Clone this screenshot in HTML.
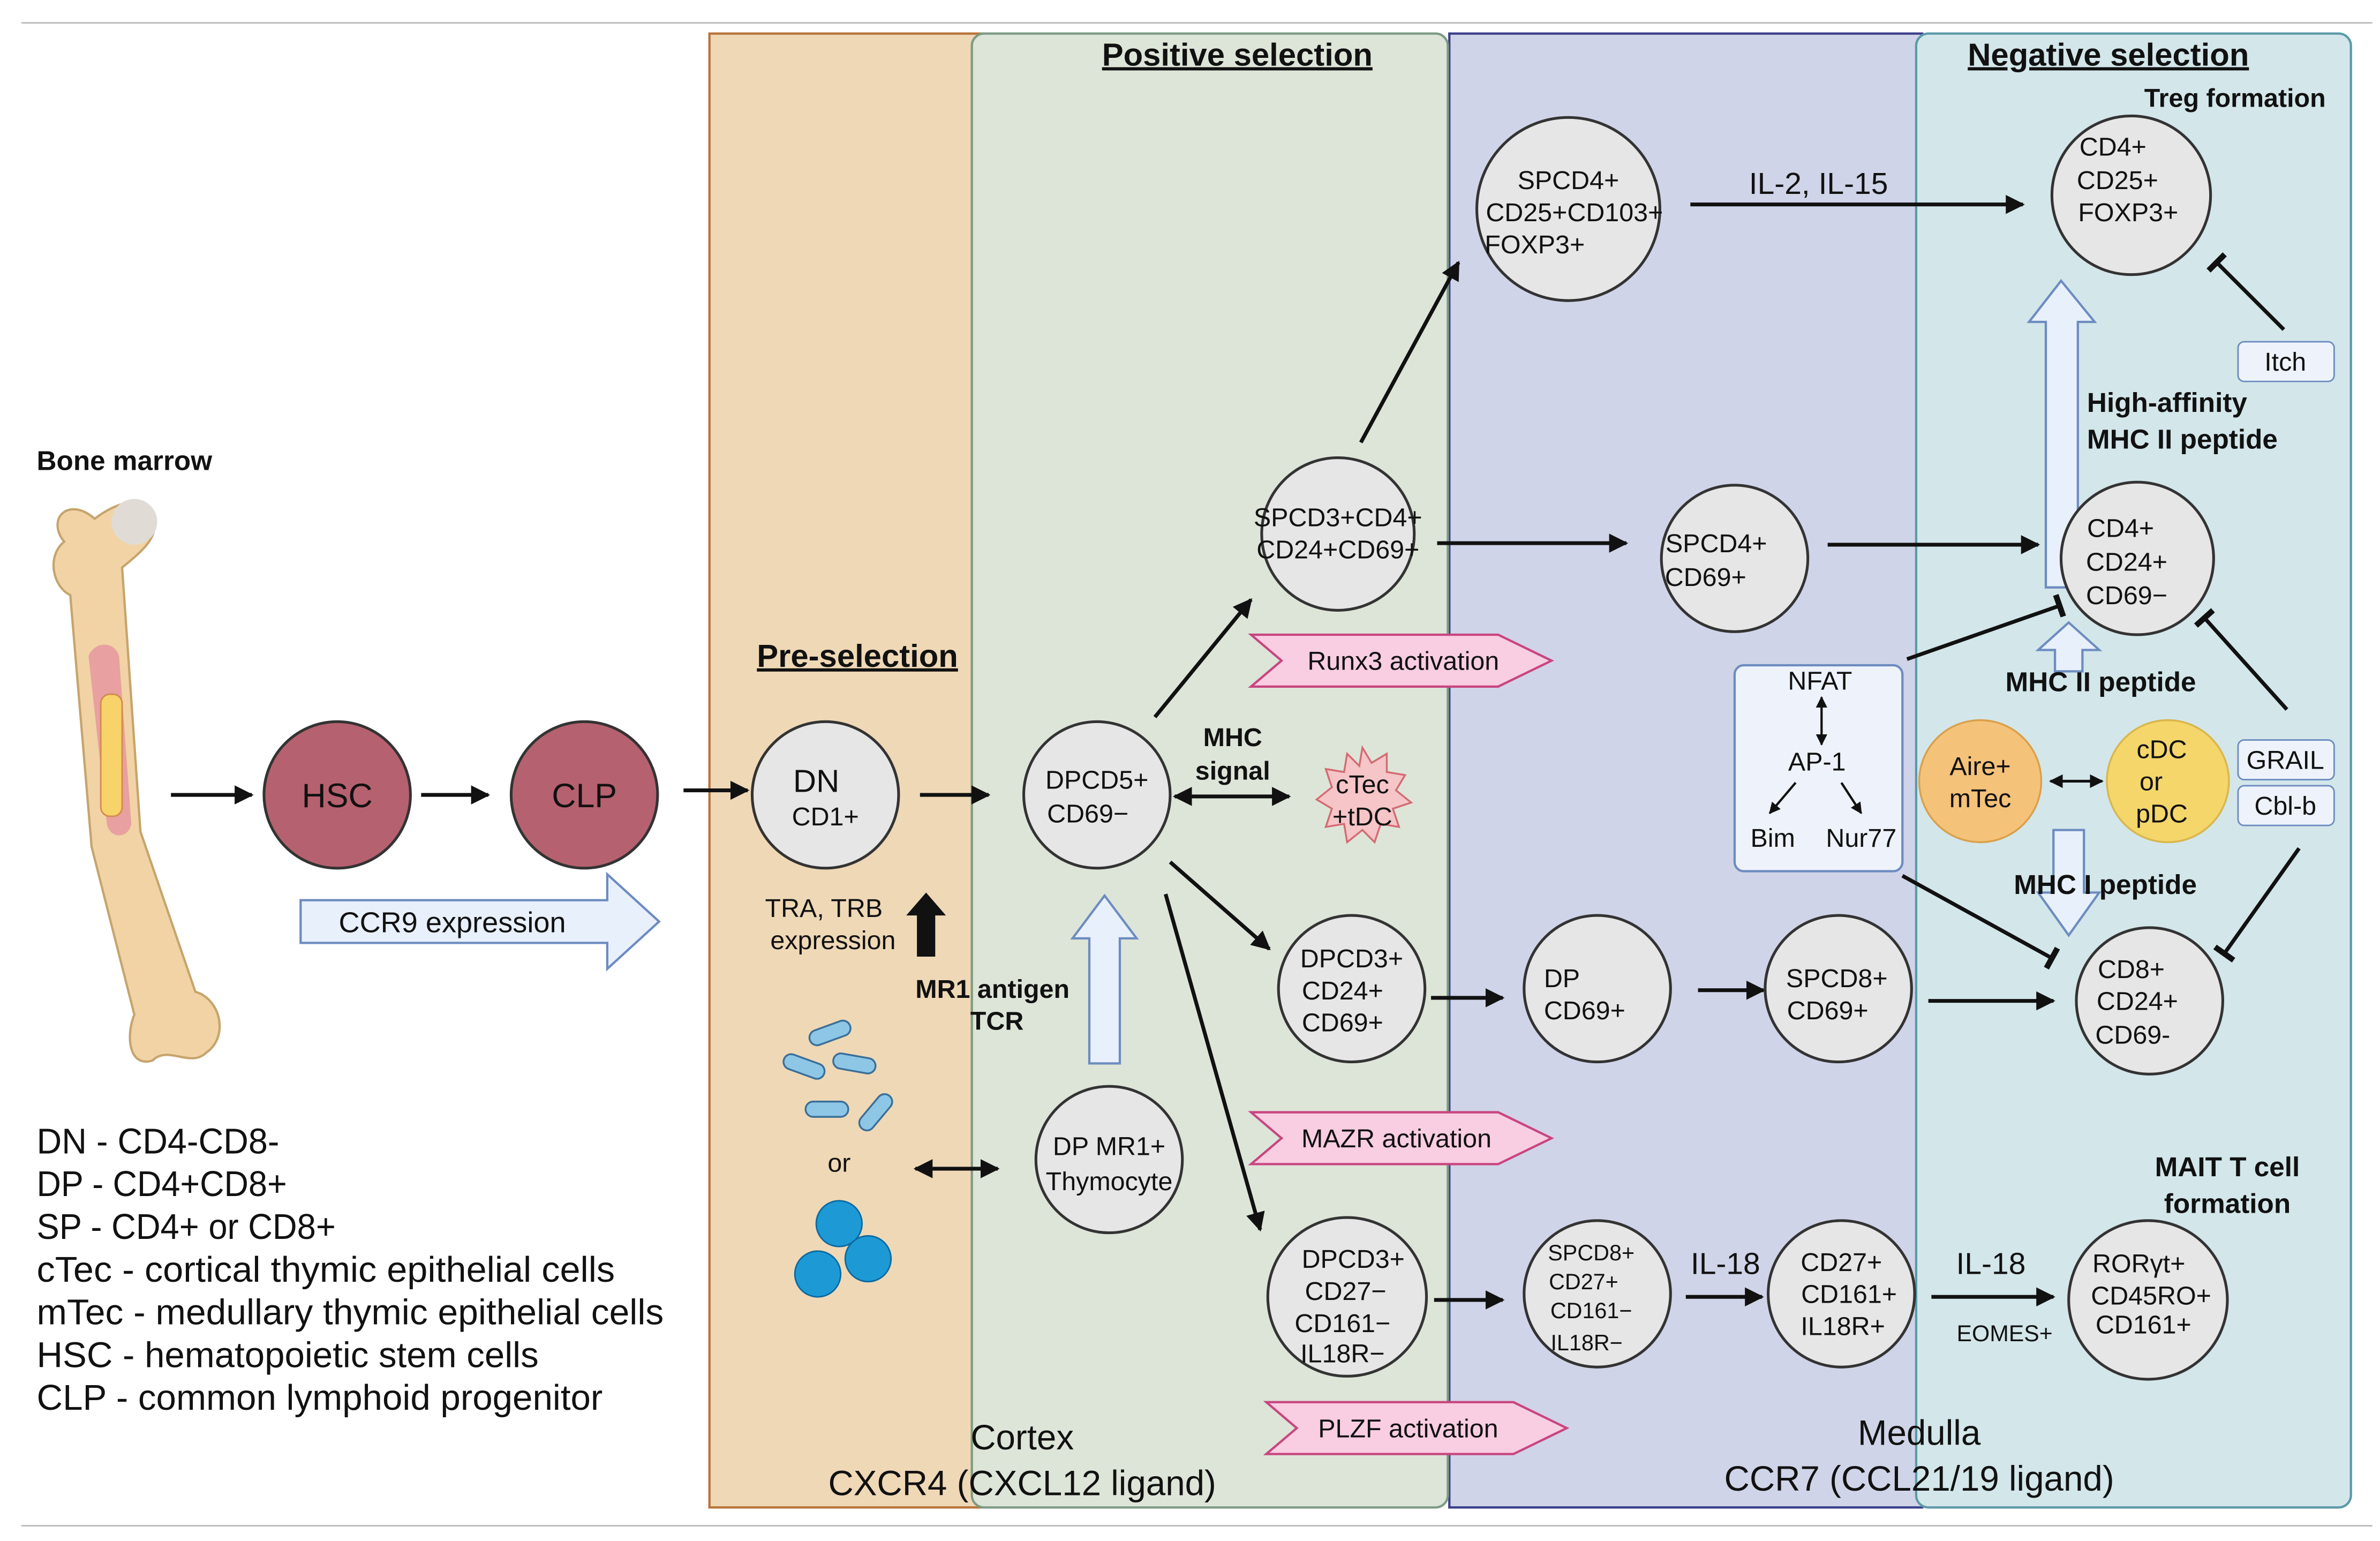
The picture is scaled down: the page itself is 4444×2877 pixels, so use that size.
<!DOCTYPE html>
<html><head><meta charset="utf-8"><style>
html,body{margin:0;padding:0;background:#fff}
svg{display:block}
text{font-family:"Liberation Sans",sans-serif;fill:#111}
.c{fill:#e6e6e6;stroke:#333;stroke-width:1.8}
.t{font-size:17px}
.b{font-weight:bold}
.ln{stroke:#111;stroke-width:2.5;fill:none}
</style></head><body>
<svg width="4444" height="2877" viewBox="0 0 1560 1010" xmlns="http://www.w3.org/2000/svg">
<defs>
<marker id="a" viewBox="0 0 10 10" refX="9" refY="5" markerWidth="5" markerHeight="5" orient="auto-start-reverse"><path d="M0,0L10,5L0,10z" fill="#111"/></marker>
<marker id="tb" viewBox="0 0 10 10" refX="5" refY="5" markerWidth="6" markerHeight="6" orient="auto"><path d="M5,0L5,10" stroke="#111" stroke-width="2.5"/></marker>
</defs>
<line x1="14" y1="15" x2="1555" y2="15" stroke="#bbb" stroke-width="1"/>
<line x1="14" y1="1000" x2="1555" y2="1000" stroke="#bbb" stroke-width="1"/>
<rect x="465" y="22" width="180" height="966" fill="#efd8b6" stroke="#b8743a" stroke-width="1.5"/>
<rect x="950" y="22" width="310" height="966" fill="#d0d4e8" stroke="#3a3f8a" stroke-width="1.5"/>
<rect x="637" y="22" width="312" height="966" rx="8" fill="#dde5d8" stroke="#7c9b84" stroke-width="1.5"/>
<rect x="1256" y="22" width="285" height="966" rx="8" fill="#d3e6ea" stroke="#5b9aa8" stroke-width="1.5"/>
<text x="811" y="43" font-size="21" class="b" text-anchor="middle" text-decoration="underline">Positive selection</text>
<text x="1382" y="43" font-size="21" class="b" text-anchor="middle" text-decoration="underline">Negative selection</text>
<text x="1465" y="70" font-size="17" class="b" text-anchor="middle">Treg formation</text>
<text x="562" y="437" font-size="21" class="b" text-anchor="middle" text-decoration="underline">Pre-selection</text>
<text x="670" y="950" font-size="23" text-anchor="middle">Cortex</text>
<text x="670" y="980" font-size="23" text-anchor="middle">CXCR4 (CXCL12 ligand)</text>
<text x="1258" y="947" font-size="23" text-anchor="middle">Medulla</text>
<text x="1258" y="977" font-size="23" text-anchor="middle">CCR7 (CCL21/19 ligand)</text>
<text x="24" y="308" font-size="18" class="b">Bone marrow</text>
<path d="M42,355 C30,340 45,325 62,340 C75,330 95,322 100,340 C105,352 92,362 80,372 L92,545 L128,650 C145,655 150,680 135,690 C125,700 110,685 100,695 C85,700 82,680 88,665 L60,555 L46,390 C35,385 30,365 42,355z" fill="#f1d3a6" stroke="#c6a46c" stroke-width="1.5"/>
<circle cx="88" cy="342" r="15" fill="#e0dcd5"/>
<path d="M58,430 C62,420 75,420 78,430 L86,540 C84,550 72,550 70,540z" fill="#e8a0a0"/>
<rect x="66" y="455" width="14" height="80" rx="6" fill="#f7d36a" stroke="#d48a50"/>
<g font-size="23.5">
<text x="24" y="756" textLength="159" lengthAdjust="spacingAndGlyphs">DN - CD4-CD8-</text>
<text x="24" y="784" textLength="164" lengthAdjust="spacingAndGlyphs">DP - CD4+CD8+</text>
<text x="24" y="812" textLength="196" lengthAdjust="spacingAndGlyphs">SP - CD4+ or CD8+</text>
<text x="24" y="840" textLength="379" lengthAdjust="spacingAndGlyphs">cTec - cortical thymic epithelial cells</text>
<text x="24" y="868" textLength="411" lengthAdjust="spacingAndGlyphs">mTec - medullary thymic epithelial cells</text>
<text x="24" y="896" textLength="329" lengthAdjust="spacingAndGlyphs">HSC - hematopoietic stem cells</text>
<text x="24" y="924" textLength="371" lengthAdjust="spacingAndGlyphs">CLP - common lymphoid progenitor</text>
</g>
<line x1="112" y1="521" x2="165" y2="521" class="ln" marker-end="url(#a)"/>
<circle cx="221" cy="521" r="48" fill="#b6616f" stroke="#333" stroke-width="1.8"/>
<text x="221" y="529" font-size="22" text-anchor="middle">HSC</text>
<line x1="276" y1="521" x2="320" y2="521" class="ln" marker-end="url(#a)"/>
<circle cx="383" cy="521" r="48" fill="#b6616f" stroke="#333" stroke-width="1.8"/>
<text x="383" y="529" font-size="22" text-anchor="middle">CLP</text>
<line x1="448" y1="518" x2="490" y2="518" class="ln" marker-end="url(#a)"/>
<path d="M197,590 H398 V573 L432,604 L398,635 V618 H197z" fill="#e8f0fb" stroke="#6d8cc0" stroke-width="1.5"/>
<text x="222" y="611" font-size="19">CCR9 expression</text>
<circle class="c" cx="541" cy="521" r="48"/>
<text x="535" y="519" font-size="21" text-anchor="middle">DN</text>
<text x="541" y="541" class="t" text-anchor="middle">CD1+</text>
<line x1="603" y1="521" x2="648" y2="521" class="ln" marker-end="url(#a)"/>
<text x="540" y="601" class="t" text-anchor="middle">TRA, TRB</text>
<text x="546" y="622" class="t" text-anchor="middle">expression</text>
<path d="M607,585 L620,600 H613 V627 H601 V600 H594z" fill="#111"/>
<text x="600" y="654" class="t b">MR1 antigen</text>
<text x="636" y="675" class="t b">TCR</text>
<g fill="#8ec6e6" stroke="#3a6f99" stroke-width="1.2">
<rect x="530" y="672" width="28" height="10" rx="5" transform="rotate(-20 544 677)"/>
<rect x="513" y="694" width="28" height="10" rx="5" transform="rotate(20 527 699)"/>
<rect x="546" y="692" width="28" height="10" rx="5" transform="rotate(10 560 697)"/>
<rect x="528" y="722" width="28" height="10" rx="5"/>
<rect x="560" y="724" width="28" height="10" rx="5" transform="rotate(-50 574 729)"/>
</g>
<text x="550" y="768" class="t" text-anchor="middle">or</text>
<g fill="#1d9ad6" stroke="#0b6aa0">
<circle cx="550" cy="802" r="15"/><circle cx="536" cy="835" r="15"/><circle cx="569" cy="825" r="15"/>
</g>
<line x1="600" y1="766" x2="654" y2="766" class="ln" marker-start="url(#a)" marker-end="url(#a)"/>
<circle class="c" cx="719" cy="521" r="48"/>
<text x="719" y="517" class="t" text-anchor="middle">DPCD5+</text>
<text x="713" y="539" class="t" text-anchor="middle">CD69−</text>
<path d="M714,697 V615 H703 L724,587 L745,615 H734 V697z" fill="#e8f0fb" stroke="#6d8cc0" stroke-width="1.5"/>
<circle class="c" cx="727" cy="760" r="48"/>
<text x="727" y="757" class="t" text-anchor="middle">DP MR1+</text>
<text x="727" y="780" class="t" text-anchor="middle">Thymocyte</text>
<text x="808" y="489" class="t b" text-anchor="middle">MHC</text>
<text x="808" y="511" class="t b" text-anchor="middle">signal</text>
<line x1="770" y1="522" x2="845" y2="522" class="ln" marker-start="url(#a)" marker-end="url(#a)"/>
<path d="M893,490 l6,10 l10,-6 l0,12 l12,2 l-6,10 l10,8 l-12,4 l4,12 l-12,-2 l-4,12 l-8,-8 l-10,8 l-2,-12 l-12,2 l4,-12 l-10,-6 l10,-8 l-4,-12 l12,2 l2,-12 l8,8z" fill="#f5c5c8" stroke="#d46a72" stroke-width="1.2"/>
<text x="893" y="520" class="t" text-anchor="middle">cTec</text>
<text x="893" y="541" class="t" text-anchor="middle">+tDC</text>
<line x1="757" y1="470" x2="820" y2="393" class="ln" marker-end="url(#a)"/>
<line x1="767" y1="565" x2="832" y2="622" class="ln" marker-end="url(#a)"/>
<line x1="764" y1="586" x2="826" y2="806" class="ln" stroke-width="2" marker-end="url(#a)"/>
<circle class="c" cx="877" cy="350" r="50"/>
<text x="877" y="345" class="t" text-anchor="middle">SPCD3+CD4+</text>
<text x="877" y="366" class="t" text-anchor="middle">CD24+CD69+</text>
<line x1="892" y1="290" x2="956" y2="172" class="ln" marker-end="url(#a)"/>
<line x1="942" y1="356" x2="1066" y2="356" class="ln" marker-end="url(#a)"/>
<path d="M820,416 H982 L1017,433 L982,450 H820 L840,433z" fill="#f9cde2" stroke="#c8457f" stroke-width="1.5"/>
<text x="857" y="439" class="t">Runx3 activation</text>
<path d="M820,729 H982 L1017,746 L982,763 H820 L840,746z" fill="#f9cde2" stroke="#c8457f" stroke-width="1.5"/>
<text x="853" y="752" class="t">MAZR activation</text>
<path d="M830,919 H992 L1027,936 L992,953 H830 L850,936z" fill="#f9cde2" stroke="#c8457f" stroke-width="1.5"/>
<text x="864" y="942" class="t">PLZF activation</text>
<circle class="c" cx="1028" cy="137" r="60"/>
<text x="1028" y="124" class="t" text-anchor="middle">SPCD4+</text>
<text x="1032" y="145" class="t" text-anchor="middle">CD25+CD103+</text>
<text x="1006" y="166" class="t" text-anchor="middle">FOXP3+</text>
<line x1="1108" y1="134" x2="1326" y2="134" class="ln" marker-end="url(#a)"/>
<text x="1192" y="127" font-size="20" text-anchor="middle">IL-2, IL-15</text>
<circle class="c" cx="1397" cy="128" r="52"/>
<text x="1385" y="102" class="t" text-anchor="middle">CD4+</text>
<text x="1388" y="124" class="t" text-anchor="middle">CD25+</text>
<text x="1395" y="145" class="t" text-anchor="middle">FOXP3+</text>
<line x1="1497" y1="216" x2="1453" y2="172" class="ln" marker-end="url(#tb)"/>
<rect x="1467" y="224" width="63" height="26" rx="4" fill="#eef3fb" stroke="#6d8cc0"/>
<text x="1498" y="243" class="t" text-anchor="middle">Itch</text>
<path d="M1341,385 V211 H1330 L1351,184 L1373,211 H1362 V385z" fill="#e8f0fb" stroke="#6d8cc0" stroke-width="1.5"/>
<text x="1368" y="270" font-size="18" class="b">High-affinity</text>
<text x="1368" y="294" font-size="18" class="b">MHC II peptide</text>
<circle class="c" cx="1137" cy="366" r="48"/>
<text x="1125" y="362" class="t" text-anchor="middle">SPCD4+</text>
<text x="1118" y="384" class="t" text-anchor="middle">CD69+</text>
<line x1="1198" y1="357" x2="1336" y2="357" class="ln" marker-end="url(#a)"/>
<circle class="c" cx="1401" cy="366" r="50"/>
<text x="1390" y="352" class="t" text-anchor="middle">CD4+</text>
<text x="1394" y="374" class="t" text-anchor="middle">CD24+</text>
<text x="1394" y="396" class="t" text-anchor="middle">CD69−</text>
<path d="M1347,440 V426 H1336 L1356,408 L1376,426 H1365 V440z" fill="#e8f0fb" stroke="#6d8cc0" stroke-width="1.5"/>
<text x="1377" y="453" font-size="18" class="b" text-anchor="middle">MHC II peptide</text>
<line x1="1499" y1="465" x2="1445" y2="405" class="ln" marker-end="url(#tb)"/>
<rect x="1137" y="436" width="110" height="135" rx="6" fill="#eef3fb" stroke="#6d8cc0" stroke-width="1.5"/>
<text x="1193" y="452" class="t" text-anchor="middle">NFAT</text>
<line x1="1194" y1="457" x2="1194" y2="488" stroke="#111" stroke-width="1.5" marker-start="url(#a)" marker-end="url(#a)"/>
<text x="1191" y="505" class="t" text-anchor="middle">AP-1</text>
<line x1="1177" y1="513" x2="1160" y2="533" stroke="#111" stroke-width="1.5" marker-end="url(#a)"/>
<line x1="1207" y1="513" x2="1220" y2="533" stroke="#111" stroke-width="1.5" marker-end="url(#a)"/>
<text x="1162" y="555" class="t" text-anchor="middle">Bim</text>
<text x="1220" y="555" class="t" text-anchor="middle">Nur77</text>
<line x1="1250" y1="432" x2="1350" y2="397" class="ln" marker-end="url(#tb)"/>
<line x1="1247" y1="574" x2="1345" y2="628" class="ln" marker-end="url(#tb)"/>
<circle cx="1298" cy="512" r="40" fill="#f5c27a" stroke="#d9a04a" stroke-width="1.2"/>
<text x="1298" y="508" class="t" text-anchor="middle">Aire+</text>
<text x="1298" y="529" class="t" text-anchor="middle">mTec</text>
<line x1="1344" y1="512" x2="1378" y2="512" stroke="#111" stroke-width="1.8" marker-start="url(#a)" marker-end="url(#a)"/>
<circle cx="1421" cy="512" r="40" fill="#f5d66a" stroke="#d9b64a" stroke-width="1.2"/>
<text x="1417" y="497" class="t" text-anchor="middle">cDC</text>
<text x="1410" y="518" class="t" text-anchor="middle">or</text>
<text x="1417" y="539" class="t" text-anchor="middle">pDC</text>
<rect x="1467" y="485" width="63" height="26" rx="4" fill="#eef3fb" stroke="#6d8cc0"/>
<text x="1498" y="504" class="t" text-anchor="middle">GRAIL</text>
<rect x="1467" y="515" width="63" height="26" rx="4" fill="#eef3fb" stroke="#6d8cc0"/>
<text x="1498" y="534" class="t" text-anchor="middle">Cbl-b</text>
<path d="M1346,544 V585 H1336 L1356,613 L1376,585 H1366 V544z" fill="#e8f0fb" stroke="#6d8cc0" stroke-width="1.5"/>
<text x="1380" y="586" font-size="18" class="b" text-anchor="middle">MHC I peptide</text>
<line x1="1507" y1="556" x2="1458" y2="625" class="ln" marker-end="url(#tb)"/>
<circle class="c" cx="886" cy="648" r="48"/>
<text x="886" y="634" class="t" text-anchor="middle">DPCD3+</text>
<text x="880" y="655" class="t" text-anchor="middle">CD24+</text>
<text x="880" y="676" class="t" text-anchor="middle">CD69+</text>
<line x1="938" y1="654" x2="985" y2="654" class="ln" marker-end="url(#a)"/>
<circle class="c" cx="1047" cy="648" r="48"/>
<text x="1012" y="647" class="t">DP</text>
<text x="1012" y="668" class="t">CD69+</text>
<line x1="1113" y1="649" x2="1156" y2="649" class="ln" marker-end="url(#a)"/>
<circle class="c" cx="1205" cy="648" r="48"/>
<text x="1204" y="647" class="t" text-anchor="middle">SPCD8+</text>
<text x="1198" y="668" class="t" text-anchor="middle">CD69+</text>
<line x1="1264" y1="656" x2="1346" y2="656" class="ln" marker-end="url(#a)"/>
<circle class="c" cx="1409" cy="656" r="48"/>
<text x="1397" y="641" class="t" text-anchor="middle">CD8+</text>
<text x="1401" y="662" class="t" text-anchor="middle">CD24+</text>
<text x="1398" y="684" class="t" text-anchor="middle">CD69-</text>
<circle class="c" cx="883" cy="850" r="52"/>
<text x="887" y="831" class="t" text-anchor="middle">DPCD3+</text>
<text x="882" y="852" class="t" text-anchor="middle">CD27−</text>
<text x="880" y="873" class="t" text-anchor="middle">CD161−</text>
<text x="880" y="893" class="t" text-anchor="middle">IL18R−</text>
<line x1="940" y1="852" x2="985" y2="852" class="ln" marker-end="url(#a)"/>
<circle class="c" cx="1047" cy="848" r="48"/>
<text x="1043" y="826" font-size="14.5" text-anchor="middle">SPCD8+</text>
<text x="1038" y="845" font-size="14.5" text-anchor="middle">CD27+</text>
<text x="1043" y="864" font-size="14.5" text-anchor="middle">CD161−</text>
<text x="1040" y="885" font-size="14.5" text-anchor="middle">IL18R−</text>
<line x1="1105" y1="850" x2="1155" y2="850" class="ln" marker-end="url(#a)"/>
<text x="1131" y="835" font-size="20" text-anchor="middle">IL-18</text>
<circle class="c" cx="1207" cy="848" r="48"/>
<text x="1207" y="833" class="t" text-anchor="middle">CD27+</text>
<text x="1212" y="854" class="t" text-anchor="middle">CD161+</text>
<text x="1208" y="875" class="t" text-anchor="middle">IL18R+</text>
<line x1="1266" y1="850" x2="1346" y2="850" class="ln" marker-end="url(#a)"/>
<text x="1305" y="835" font-size="20" text-anchor="middle">IL-18</text>
<text x="1314" y="879" font-size="15" text-anchor="middle">EOMES+</text>
<text x="1460" y="771" font-size="18" class="b" text-anchor="middle">MAIT T cell</text>
<text x="1460" y="795" font-size="18" class="b" text-anchor="middle">formation</text>
<circle class="c" cx="1408" cy="852" r="52"/>
<text x="1402" y="834" class="t" text-anchor="middle">RORγt+</text>
<text x="1410" y="855" class="t" text-anchor="middle">CD45RO+</text>
<text x="1405" y="874" class="t" text-anchor="middle">CD161+</text>
</svg>
</body></html>
